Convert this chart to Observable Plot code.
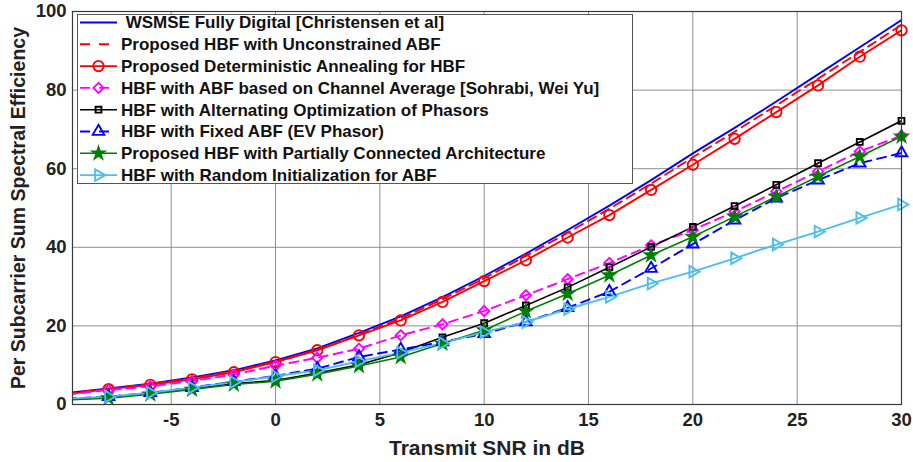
<!DOCTYPE html>
<html><head><meta charset="utf-8">
<script src="https://cdn.jsdelivr.net/npm/d3@7"></script>
<script src="https://cdn.jsdelivr.net/npm/@observablehq/plot@0.6"></script>
<style>
html,body{margin:0;padding:0;background:#fff;}
#chart svg{font-family:"Liberation Sans",Arial,Helvetica,sans-serif;overflow:visible;}
</style></head><body><div id="chart"></div>
<script>
// ---- data ----
const snr = [-10, -8, -6, -4, -2, 0, 2, 4, 6, 8, 10, 12, 14, 16, 18, 20, 22, 24, 26, 28, 30];
const wsmse        = [2.9, 4.1, 5.3, 6.9, 8.7, 11.2, 14.3, 18.2, 22.4, 27.3, 32.7, 38.4, 44.4, 50.6, 57.1, 63.9, 70.4, 77.1, 84.0, 90.9, 97.8];
const unconstrained= [2.8, 4.0, 5.2, 6.7, 8.5, 10.9, 13.9, 17.8, 21.9, 26.8, 32.1, 37.8, 43.7, 49.8, 56.2, 62.9, 69.4, 76.1, 82.9, 89.7, 96.6];
const annealing    = [2.6, 3.9, 5.0, 6.4, 8.2, 10.8, 13.8, 17.6, 21.4, 26.1, 31.4, 36.7, 42.5, 48.2, 54.6, 61.0, 67.6, 74.4, 81.2, 88.5, 95.2];
const channelAvg   = [2.5, 3.7, 4.6, 6.0, 7.6, 9.9, 11.9, 14.2, 17.6, 20.4, 23.8, 27.8, 31.9, 36.0, 40.5, 44.4, 49.1, 54.2, 59.3, 64.4, 68.4];
const altOpt       = [1.3, 1.8, 2.8, 4.0, 5.3, 6.1, 8.0, 10.1, 13.2, 17.1, 20.7, 25.2, 29.8, 34.9, 40.1, 45.2, 50.5, 55.9, 61.4, 66.8, 72.2];
const fixedABF     = [1.5, 2.0, 3.0, 4.3, 5.8, 7.3, 9.1, 12.1, 14.0, 15.9, 18.0, 21.0, 24.6, 28.7, 34.6, 40.8, 46.9, 52.5, 57.1, 61.4, 64.0];
const partial      = [1.2, 1.6, 2.6, 3.8, 5.1, 5.9, 7.7, 9.8, 12.1, 15.5, 18.9, 23.7, 28.2, 32.9, 38.0, 42.7, 47.8, 52.9, 58.0, 63.1, 68.2];
const randomInit   = [1.5, 2.0, 3.0, 4.3, 5.7, 7.2, 8.7, 11.0, 13.2, 15.6, 18.4, 21.0, 24.3, 27.4, 30.8, 33.8, 37.2, 40.7, 44.0, 47.5, 50.9];

const seriesNames = [
  " WSMSE Fully Digital [Christensen et al]",
  "Proposed HBF with Unconstrained ABF",
  "Proposed Deterministic Annealing for HBF",
  "HBF with ABF based on Channel Average [Sohrabi, Wei Yu]",
  "HBF with Alternating Optimization of Phasors",
  "HBF with Fixed ABF (EV Phasor)",
  "Proposed HBF with Partially Connected Architecture",
  "HBF with Random Initialization for ABF"
];
const seriesValues = [wsmse, unconstrained, annealing, channelAvg, altOpt, fixedABF, partial, randomInit];
const xTicks = [-5, 0, 5, 10, 15, 20, 25, 30];
const yTicks = [0, 20, 40, 60, 80, 100];
const xLabel = "Transmit SNR in dB";
const yLabel = "Per Subcarrier Sum Spectral Efficiency";

// ---- styles ----
const triangleRight = {
  draw(ctx, size) {
    const y = -Math.sqrt(size / (Math.sqrt(3) * 3));
    ctx.moveTo(-2 * y, 0);
    ctx.lineTo(y, -Math.sqrt(3) * y);
    ctx.lineTo(y, Math.sqrt(3) * y);
    ctx.closePath();
  }
};
const styles = [
  {color: "#0000ff", dash: null, symbol: null, width: 1.9},
  {color: "#ff0000", dash: "9,6", symbol: null, width: 1.9},
  {color: "#ff0000", dash: null, symbol: "circle", r: 5.2, fill: "none", width: 1.9},
  {color: "#ff00ff", dash: "9,6", symbol: "diamond2", r: 4.6, fill: "none", width: 1.9},
  {color: "#000000", dash: null, symbol: "square", r: 3.3, fill: "none", width: 1.6},
  {color: "#0000ff", dash: "9,6", symbol: "triangle", r: 4.3, fill: "none", width: 1.9},
  {color: "#008000", dash: null, symbol: "star", r: 3.7, fill: "#008000", width: 1.6},
  {color: "#4dbeee", dash: null, symbol: triangleRight, r: 4.3, fill: "none", width: 1.9}
];

const data = seriesValues.map((vals, k) => snr.map((x, i) => ({x, y: vals[i], k})));

const marks = [
  Plot.gridX(xTicks, {stroke: "#8f8f8f", strokeOpacity: 1, strokeWidth: 1}),
  Plot.gridY([20, 40, 60, 80], {stroke: "#8f8f8f", strokeOpacity: 1, strokeWidth: 1})
];
data.forEach((d, k) => {
  const s = styles[k];
  marks.push(Plot.line(d, {x: "x", y: "y", stroke: s.color, strokeWidth: s.width,
    strokeDasharray: s.dash || undefined, clip: true}));
});
data.forEach((d, k) => {
  const s = styles[k];
  if (!s.symbol) return;
  marks.push(Plot.dot(d.filter(p => p.x > -10), {x: "x", y: "y", symbol: s.symbol, r: s.r,
    stroke: s.color, fill: s.fill, strokeWidth: 1.9}));
});
marks.push(
  Plot.frame({stroke: "#3a3a3a", strokeWidth: 1.2}),
  Plot.axisX(xTicks, {tickSize: 0, tickPadding: 8, fontSize: 18.5, fontWeight: "bold", fill: "#222",
    tickFormat: d => String(d), label: null}),
  Plot.axisY(yTicks, {tickSize: 0, tickPadding: 6, fontSize: 18.5, fontWeight: "bold", fill: "#222",
    tickFormat: d => String(d), label: null}),
  Plot.text([xLabel], {frameAnchor: "bottom", dy: 44, lineAnchor: "middle", textAnchor: "middle",
    fontSize: 21, fontWeight: "bold", fill: "#222"}),
  Plot.text([yLabel], {frameAnchor: "left", dx: -54, rotate: -90, lineAnchor: "middle", textAnchor: "middle",
    fontSize: 19.5, fontWeight: "bold", fill: "#222"})
);

const plot = Plot.plot({
  width: 913, height: 462,
  marginLeft: 72, marginRight: 12, marginTop: 11, marginBottom: 58,
  x: {domain: [-9.73, 30]},
  y: {domain: [0, 100]},
  style: {fontFamily: "'Liberation Sans', Arial, Helvetica, sans-serif", background: "#fff"},
  marks
});
document.getElementById("chart").appendChild(plot);

// ---- legend (drawn in the SVG) ----
const svg = d3.select(plot);
const lg = svg.append("g").attr("text-anchor", "start");
const bx = 77, by = 14, bw = 555, bh = 169;
lg.append("rect").attr("x", bx + 0.5).attr("y", by + 0.5).attr("width", bw).attr("height", bh)
  .attr("fill", "#fff").attr("stroke", "#555").attr("stroke-width", 1);
const rowY0 = 22.5, rowStep = 21.8;
seriesNames.forEach((name, k) => {
  const s = styles[k];
  const cy = rowY0 + k * rowStep;
  lg.append("line").attr("x1", 80).attr("x2", 117).attr("y1", cy).attr("y2", cy)
    .attr("stroke", s.color).attr("stroke-width", s.width)
    .attr("stroke-dasharray", s.dash ? "10,9" : null);
  if (s.symbol) {
    const type = s.symbol === "circle" ? d3.symbolCircle : s.symbol === "diamond2" ? d3.symbolDiamond2 :
      s.symbol === "square" ? d3.symbolSquare : s.symbol === "triangle" ? d3.symbolTriangle :
      s.symbol === "star" ? d3.symbolStar : s.symbol;
    lg.append("path").attr("transform", `translate(98.5,${cy})`)
      .attr("d", d3.symbol(type, Math.PI * s.r * s.r)())
      .attr("fill", s.fill).attr("stroke", s.color).attr("stroke-width", 1.9);
  }
  lg.append("text").attr("x", 121).attr("y", cy).attr("dy", "0.35em")
    .attr("text-anchor", "start")
    .attr("xml:space", "preserve").style("white-space", "pre")
    .attr("font-size", 17).attr("font-weight", "bold").attr("fill", "#111")
    .text(name);
});
</script></body></html>
